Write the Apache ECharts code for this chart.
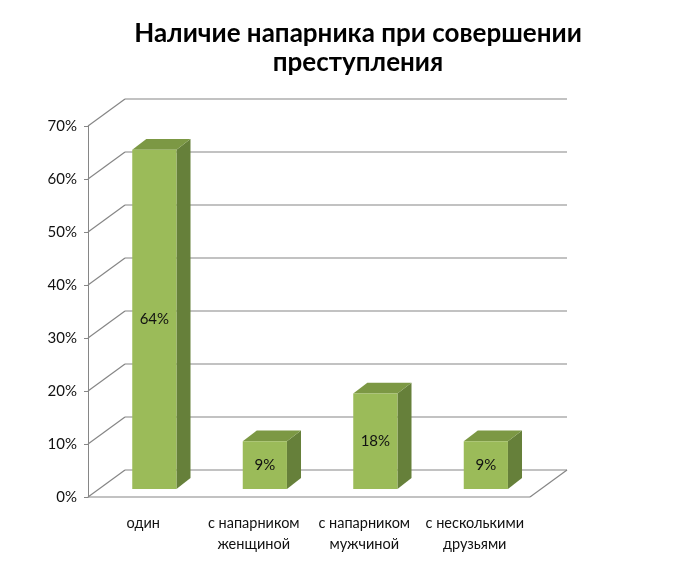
<!DOCTYPE html>
<html><head><meta charset="utf-8">
<script src="https://cdn.jsdelivr.net/npm/echarts@6/dist/echarts.min.js"></script>
<style>html,body{margin:0;padding:0;background:#fff}#c{width:700px;height:561px}</style>
</head><body><div id="c"></div>
<script>
var titleText = 'Наличие напарника при совершении\nпреступления';
var categories = ['один', 'с напарником\nженщиной', 'с напарником\nмужчиной', 'с несколькими\nдрузьями'];
var values = [0.64, 0.09, 0.18, 0.09];
var yTicks = [0, 0.1, 0.2, 0.3, 0.4, 0.5, 0.6, 0.7];

var DX = 37, DY = -27;          // depth of the 3D box
var FONT = 'Lato, "Open Sans", sans-serif';
var GRID_C = '#868686';

var chart = echarts.init(document.getElementById('c'));
chart.setOption({
  animation: false,
  backgroundColor: '#fff',
  title: {
    text: titleText, left: 353, top: 14, textAlign: 'center',
    textStyle: { fontFamily: FONT, fontSize: 26, fontWeight: 'bold', color: '#000', lineHeight: 29 }
  },
  grid: { left: 88, right: 170, top: 126, bottom: 64 },
  xAxis: {
    type: 'category', data: categories,
    axisLine: { show: false }, axisTick: { show: false },
    axisLabel: { margin: 16, fontFamily: FONT, fontSize: 14.5, color: '#111', lineHeight: 21, interval: 0 }
  },
  yAxis: {
    type: 'value', min: 0, max: 0.7, interval: 0.1,
    axisLine: { show: true, lineStyle: { color: GRID_C } },
    axisTick: { show: true, length: 4, lineStyle: { color: GRID_C } },
    splitLine: { show: false },
    axisLabel: { margin: 11, fontFamily: FONT, fontSize: 15, color: '#111',
      formatter: function (v) { return Math.round(v * 100) + '%'; } }
  },
  series: [
    {
      type: 'custom', z: 1, silent: true,
      data: yTicks.map(function (v) { return [0, v]; }),
      renderItem: function (params, api) {
        var cs = params.coordSys;
        var y = api.coord([0, api.value(1)])[1];
        var x0 = cs.x, x1 = cs.x + cs.width;
        var ls = { stroke: GRID_C, lineWidth: 1.2, fill: null };
        var kids = [
          { type: 'line', shape: { x1: x0, y1: y, x2: x0 + DX, y2: y + DY }, style: ls },
          { type: 'line', shape: { x1: x0 + DX, y1: y + DY, x2: x1 + DX, y2: y + DY }, style: ls }
        ];
        if (api.value(1) === 0) {
          kids.push({ type: 'line', shape: { x1: x0, y1: y, x2: x1, y2: y }, style: ls });
          kids.push({ type: 'line', shape: { x1: x1, y1: y, x2: x1 + DX, y2: y + DY }, style: ls });
        }
        return { type: 'group', children: kids };
      }
    },
    {
      type: 'custom', z: 5,
      data: values.map(function (v, i) { return [i, v]; }),
      renderItem: function (params, api) {
        var top = api.coord([api.value(0), api.value(1)]);
        var base = api.coord([api.value(0), 0]);
        var band = api.size([1, 0])[0];
        var w = band * 0.4;
        var fx = top[0] - w / 2 + DX * 0.3;
        var fyB = base[1] + DY * 0.3;
        var fyT = top[1] + DY * 0.3;
        var dx = DX * 0.38, dy = DY * 0.4;
        return {
          type: 'group',
          children: [
            { type: 'polygon', shape: { points: [[fx + w, fyT], [fx + w + dx, fyT + dy], [fx + w + dx, fyB + dy], [fx + w, fyB]] },
              style: { fill: '#66803a' } },
            { type: 'polygon', shape: { points: [[fx, fyT], [fx + dx, fyT + dy], [fx + w + dx, fyT + dy], [fx + w, fyT]] },
              style: { fill: '#7c9844' } },
            { type: 'rect', shape: { x: fx, y: fyT, width: w, height: fyB - fyT },
              style: { fill: '#9bbb59' } },
            { type: 'text', x: fx + w / 2, y: (fyT + fyB) / 2,
              style: { text: Math.round(api.value(1) * 100) + '%', align: 'center', verticalAlign: 'middle',
                font: '15px ' + FONT, fill: '#111' } }
          ]
        };
      }
    }
  ]
});
</script></body></html>
